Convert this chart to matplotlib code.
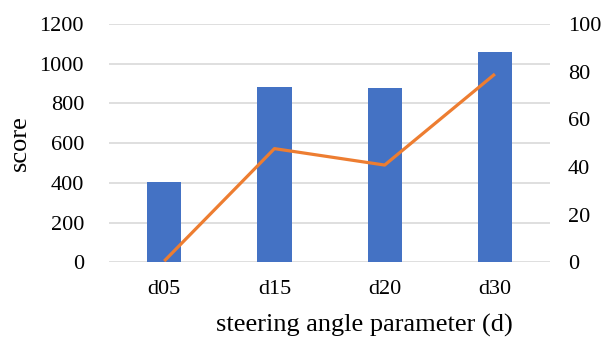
import matplotlib.pyplot as plt
import numpy as np

plt.rcParams['font.family'] = ['Liberation Serif', 'DejaVu Serif']

categories = ['d05', 'd15', 'd20', 'd30']
score = [403, 883, 878, 1061]
line_vals = [0.5, 47.7, 40.8, 79.0]

x = np.arange(len(categories))

fig = plt.figure(figsize=(6.06, 3.38), dpi=100)
ax = fig.add_axes([0.18, 0.224, 0.7276, 0.705])
ax.bar(x, score, width=0.31, color='#4472C4', zorder=2)
ax.set_xlim(-0.5, 3.5)
ax.set_ylim(0, 1200)
ax.set_yticks(range(0, 1201, 200))
ax.set_xticks(x)
ax.set_xticklabels(categories)
ax.grid(axis='y', color='#D9D9D9', linewidth=1.2, zorder=0)
ax.set_axisbelow(True)
for s in ax.spines.values():
    s.set_visible(False)
ax.tick_params(axis='both', length=0, labelsize=16)
ax.tick_params(axis='y', pad=18)
ax.tick_params(axis='x', pad=13)
ax.set_ylabel('score', fontsize=19, va='center')
ax.yaxis.set_label_coords(-0.202, 0.5)
ax.set_xlabel('steering angle parameter (d)', fontsize=19, va='center')
ax.xaxis.set_label_coords(0.58, -0.265)

ax2 = ax.twinx()
ax2.plot(x, line_vals, color='#ED7D31', linewidth=2.3, solid_capstyle='butt', zorder=3)
ax2.set_ylim(0, 100)
ax2.set_yticks(range(0, 101, 20))
for s in ax2.spines.values():
    s.set_visible(False)
ax2.tick_params(axis='y', length=0, labelsize=16, pad=13)

fig.savefig('out.png', dpi=100)
